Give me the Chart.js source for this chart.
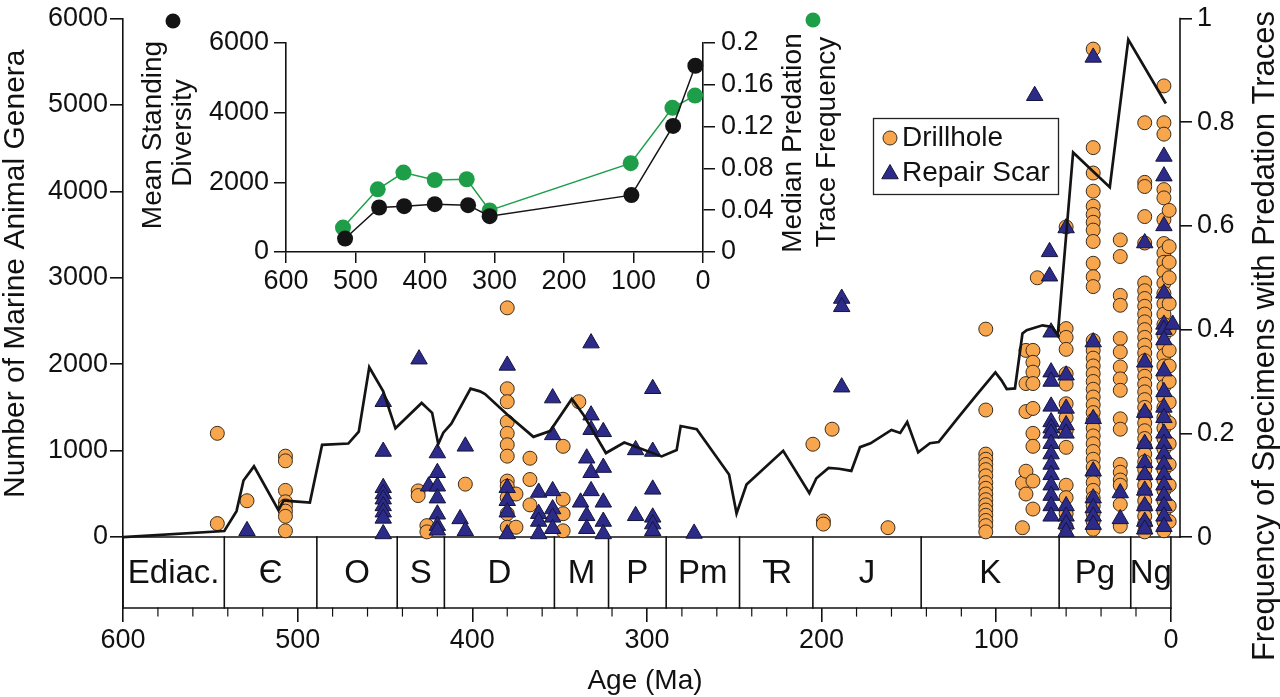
<!DOCTYPE html>
<html><head><meta charset="utf-8">
<script src="https://cdn.jsdelivr.net/npm/chart.js@4.4.1/dist/chart.umd.min.js"></script>
<style>
html,body{margin:0;padding:0;background:#fff;}
#wrap{position:relative;width:1280px;height:697px;overflow:hidden;background:#fff;}
#main{position:absolute;left:0;top:0;}
#inset{position:absolute;left:130px;top:0;}
</style></head><body>
<div id="wrap"><canvas id="main" width="1280" height="697"></canvas><canvas id="inset" width="730" height="300"></canvas></div>
<script>
// ---------- data ----------
const xTickValues = [600, 500, 400, 300, 200, 100, 0];
const generaTicks = [0, 1000, 2000, 3000, 4000, 5000, 6000];
const freqTicks = [0, 0.2, 0.4, 0.6, 0.8, 1];
const freqTickLabels = ['0', '0.2', '0.4', '0.6', '0.8', '1'];

const periodNames = ['Ediac.', 'Є', 'O', 'S', 'D', 'M', 'P', 'Pm', 'TR', 'J', 'K', 'Pg', 'Ng'];
const periodBounds = [600, 542, 489, 443, 416, 353, 322, 289, 247, 205, 143, 64, 23, 0];

const diversityAge = [600, 542, 535, 531, 525, 511, 508, 502, 493, 486, 471, 465, 459, 451, 444, 429, 423, 419.5, 416.6, 412, 401, 395.6, 392.7, 380, 365, 355.5, 343, 336.5, 323.5, 313, 291.6, 283, 280.7, 271.5, 253, 248.7, 243, 222, 207, 203, 196, 190, 183, 178, 172, 160, 155, 151, 144.7, 138, 133, 121.5, 111, 100.5, 97, 94, 89.3, 85, 82.6, 73.5, 68, 64.8, 56, 35, 24.4, 2.9];
const diversityGenera = [0, 70, 300, 654, 818, 310, 424, 413, 398, 1067, 1082, 1220, 1965, 1686, 1258, 1552, 1437, 1075, 1208, 1311, 1717, 1686, 1655, 1419, 1159, 1227, 1598, 1419, 972, 1094, 933, 1006, 1285, 1247, 723, 272, 608, 998, 508, 680, 800, 790, 765, 1040, 1085, 1240, 1205, 1330, 980, 1085, 1100, 1390, 1650, 1905, 1813, 1713, 1720, 2355, 2394, 2450, 2430, 2335, 4450, 4048, 5755, 5017];

const drillholeAge = [546, 529, 507, 431, 426, 404, 380, 375, 367, 348, 339, 205, 199, 194, 162, 106, 85, 83, 79, 76.5, 60, 44.5, 29, 15, 4, 1];
const drillholeFreq = [
  [0.200, 0.026],
  [0.070],
  [0.156, 0.147, 0.090, 0.068, 0.060, 0.050, 0.040, 0.012],
  [0.089, 0.080],
  [0.022, 0.010],
  [0.102],
  [0.442, 0.286, 0.261, 0.222, 0.200, 0.178, 0.156, 0.108, 0.098, 0.076, 0.045, 0.019],
  [0.083, 0.019],
  [0.152, 0.111, 0.062],
  [0.175, 0.073, 0.045, 0.012],
  [0.261],
  [0.179],
  [0.031, 0.025],
  [0.208],
  [0.018],
  [0.401, 0.245, 0.160, 0.150, 0.140, 0.130, 0.118, 0.105, 0.094, 0.083, 0.072, 0.062, 0.052, 0.042, 0.032, 0.022, 0.010],
  [0.104, 0.018],
  [0.360, 0.296, 0.242, 0.127, 0.083],
  [0.360, 0.337, 0.318, 0.296, 0.248, 0.200, 0.175, 0.108, 0.054],
  [0.500],
  [0.598, 0.402, 0.385, 0.362, 0.315, 0.295, 0.257, 0.230, 0.205, 0.173, 0.100, 0.076, 0.045, 0.020],
  [0.941, 0.751, 0.702, 0.667, 0.638, 0.622, 0.607, 0.592, 0.570, 0.528, 0.502, 0.483, 0.379, 0.360, 0.345, 0.330, 0.315, 0.300, 0.285, 0.270, 0.255, 0.240, 0.225, 0.210, 0.195, 0.180, 0.165, 0.150, 0.135, 0.120, 0.105, 0.090, 0.075, 0.060, 0.045, 0.030, 0.015],
  [0.573, 0.541, 0.466, 0.447, 0.383, 0.357, 0.328, 0.305, 0.283, 0.228, 0.208, 0.140, 0.125, 0.110, 0.100, 0.063, 0.021],
  [0.799, 0.684, 0.676, 0.618, 0.567, 0.490, 0.475, 0.460, 0.445, 0.430, 0.415, 0.400, 0.385, 0.370, 0.355, 0.340, 0.325, 0.310, 0.295, 0.280, 0.265, 0.250, 0.235, 0.220, 0.205, 0.190, 0.175, 0.160, 0.145, 0.130, 0.115, 0.100, 0.085, 0.070, 0.055, 0.040, 0.025, 0.010],
  [0.870, 0.799, 0.777, 0.670, 0.654, 0.612, 0.566, 0.548, 0.530, 0.512, 0.490, 0.470, 0.450, 0.430, 0.410, 0.390, 0.370, 0.350, 0.330, 0.310, 0.290, 0.270, 0.250, 0.230, 0.210, 0.190, 0.170, 0.150, 0.130, 0.110, 0.090, 0.070, 0.050, 0.030, 0.012],
  [0.630, 0.560, 0.530, 0.500, 0.450, 0.400, 0.360, 0.330, 0.300, 0.260, 0.220, 0.180, 0.140, 0.100, 0.060, 0.030]
];

const repairAge = [529, 451, 430.5, 425, 420, 407, 404, 380, 362, 354, 338, 334.5, 332, 325, 306.5, 296.7, 273, 188.5, 78, 69.5, 68.6, 60, 44.5, 29, 15, 4, -1];
const repairFreq = [
  [0.012],
  [0.261, 0.165, 0.095, 0.083, 0.073, 0.060, 0.048, 0.036, 0.006],
  [0.343],
  [0.098],
  [0.162, 0.124, 0.098, 0.075, 0.044, 0.022, 0.013],
  [0.035],
  [0.175, 0.012],
  [0.331, 0.095, 0.070, 0.048, 0.006],
  [0.086, 0.045, 0.030, 0.006],
  [0.268, 0.197, 0.089, 0.054, 0.038, 0.016],
  [0.067],
  [0.152, 0.041, 0.016],
  [0.374, 0.235, 0.207, 0.124, 0.089],
  [0.203, 0.134, 0.067, 0.030, 0.006],
  [0.168, 0.041],
  [0.286, 0.165, 0.092, 0.038, 0.025, 0.012],
  [0.007],
  [0.460, 0.444, 0.289],
  [0.851],
  [0.550, 0.503],
  [0.395, 0.318, 0.300, 0.252, 0.222, 0.210, 0.200, 0.180, 0.160, 0.140, 0.120, 0.100, 0.080, 0.060, 0.040],
  [0.596, 0.312, 0.248, 0.216, 0.200, 0.060, 0.040, 0.025, 0.010],
  [0.925, 0.376, 0.228, 0.127, 0.075, 0.056, 0.040, 0.024],
  [0.085, 0.035],
  [0.567, 0.337, 0.240, 0.180, 0.143, 0.120, 0.090, 0.060, 0.030, 0.015],
  [0.734, 0.696, 0.600, 0.470, 0.410, 0.400, 0.380, 0.320, 0.280, 0.250, 0.230, 0.200, 0.180, 0.160, 0.140, 0.120, 0.100, 0.080, 0.060, 0.040, 0.020],
  [0.410]
];

// inset
const insetXTicks = [600, 500, 400, 300, 200, 100, 0];
const insetDivTicks = [0, 2000, 4000, 6000];
const insetPredTicks = [0, 0.04, 0.08, 0.12, 0.16, 0.2];
const insetPredTickLabels = ['0', '0.04', '0.08', '0.12', '0.16', '0.2'];
const insetDivAge = [515, 466, 430, 386, 338, 307, 103, 43, 11];
const insetDiversity = [386, 1278, 1316, 1373, 1345, 1028, 1633, 3620, 5347];
const insetPredAge = [518, 468, 431, 386, 340, 307, 104, 44, 11.5];
const insetPredation = [0.0234, 0.060, 0.076, 0.0689, 0.0696, 0.0398, 0.085, 0.138, 0.1497];

// ---------- styling ----------
const FAM = '"Liberation Sans", Arial, Helvetica, sans-serif';
const INK = '#111';
const ORANGE = '#f8a64e';
const NAVY = '#2c2b8a';
const GREEN = '#1f9e4a';
const TICK = 27;
Chart.defaults.font.family = FAM;
Chart.defaults.color = INK;

function pts(ages, freqs) {
  const out = [];
  ages.forEach((a, i) => freqs[i].forEach(f => out.push({x: a, y: f})));
  return out;
}
function font(sz) { return sz + 'px ' + FAM; }
function rotText(ctx, txt, x, y, sz) {
  ctx.save();
  ctx.translate(x, y);
  ctx.rotate(-Math.PI / 2);
  ctx.font = font(sz);
  ctx.fillStyle = INK;
  ctx.textAlign = 'center';
  ctx.textBaseline = 'middle';
  ctx.fillText(txt, 0, 0);
  ctx.restore();
}
function tri(ctx, x, y, r) {
  ctx.beginPath();
  for (let k = 0; k < 3; k++) {
    const a = k * 2 * Math.PI / 3;
    const px = x + Math.sin(a) * r, py = y - Math.cos(a) * r;
    if (k === 0) ctx.moveTo(px, py); else ctx.lineTo(px, py);
  }
  ctx.closePath();
}

const mainDecor = {
  id: 'mainDecor',
  beforeDatasetsDraw(chart) {
    const {ctx, chartArea: ca, scales} = chart;
    const x = scales.x, y = scales.y, y2 = scales.y2;
    const y0 = y.getPixelForValue(0), yb = ca.bottom;
    ctx.save();
    ctx.strokeStyle = INK; ctx.lineWidth = 1.6; ctx.lineCap = 'square';
    ctx.beginPath(); ctx.moveTo(ca.left, y0); ctx.lineTo(ca.right, y0); ctx.stroke();
    ctx.beginPath(); ctx.moveTo(x.getPixelForValue(600), yb); ctx.lineTo(x.getPixelForValue(0), yb); ctx.stroke();
    periodBounds.forEach(b => {
      const px = x.getPixelForValue(b);
      ctx.beginPath(); ctx.moveTo(px, y0); ctx.lineTo(px, yb); ctx.stroke();
    });
    // minor ticks
    ctx.lineWidth = 1.2;
    for (let v = 20; v < 600; v += 20) {
      if (v % 100 === 0) continue;
      const px = x.getPixelForValue(v);
      ctx.beginPath(); ctx.moveTo(px, yb); ctx.lineTo(px, yb + 8); ctx.stroke();
    }
    // right axis line
    ctx.lineWidth = 1.6;
    ctx.beginPath(); ctx.moveTo(ca.right, y2.getPixelForValue(1)); ctx.lineTo(ca.right, y2.getPixelForValue(0)); ctx.stroke();
    // period labels
    ctx.fillStyle = INK; ctx.font = font(33); ctx.textBaseline = 'middle';
    const cy = (y0 + yb) / 2 + 1;
    periodNames.forEach((n, i) => {
      const cx = (x.getPixelForValue(periodBounds[i]) + x.getPixelForValue(periodBounds[i + 1])) / 2;
      if (n === 'TR') {
        ctx.textAlign = 'left';
        ctx.letterSpacing = '-14px';
        ctx.fillText(n, cx - 14, cy);
        ctx.letterSpacing = '0px';
      } else {
        ctx.textAlign = 'center';
        ctx.fillText(n, cx, cy);
      }
    });
    ctx.restore();
  },
  afterDraw(chart) {
    const {ctx, scales} = chart;
    const y = scales.y;
    ctx.save();
    // legend
    ctx.fillStyle = '#fff'; ctx.fillRect(873, 118, 186, 77);
    ctx.strokeStyle = '#222'; ctx.lineWidth = 1.3; ctx.strokeRect(873.5, 118.5, 185, 76);
    ctx.beginPath(); ctx.arc(890, 138, 7, 0, Math.PI * 2);
    ctx.fillStyle = ORANGE; ctx.fill(); ctx.strokeStyle = '#3a2c1c'; ctx.lineWidth = 1; ctx.stroke();
    tri(ctx, 890, 174, 9.5); ctx.fillStyle = NAVY; ctx.fill(); ctx.strokeStyle = '#15153a'; ctx.stroke();
    ctx.fillStyle = INK; ctx.font = font(28); ctx.textAlign = 'left'; ctx.textBaseline = 'middle';
    ctx.fillText('Drillhole', 902, 138);
    ctx.fillText('Repair Scar', 902, 173);
    // axis titles
    rotText(ctx, 'Number of Marine Animal Genera', 16, (y.getPixelForValue(0) + y.getPixelForValue(6000)) / 2 - 4, 30);
    rotText(ctx, 'Frequency of Specimens with Predation Traces', 1265, 336, 31);
    ctx.font = font(28); ctx.textAlign = 'center'; ctx.textBaseline = 'middle'; ctx.fillStyle = INK;
    ctx.fillText('Age (Ma)', 645, 681);
    ctx.restore();
  }
};

new Chart(document.getElementById('main'), {
  data: {
    datasets: [
      {type: 'line', label: 'Number of Marine Animal Genera', yAxisID: 'y',
       data: diversityAge.map((a, i) => ({x: a, y: diversityGenera[i]})),
       borderColor: '#141414', borderWidth: 2.7, pointRadius: 0, tension: 0, order: 0, borderJoinStyle: 'miter'},
      {type: 'scatter', label: 'Repair Scar', yAxisID: 'y2', data: pts(repairAge, repairFreq),
       pointStyle: 'triangle', radius: 9.5, backgroundColor: NAVY, borderColor: '#15153a', borderWidth: 1, order: 1, clip: false},
      {type: 'scatter', label: 'Drillhole', yAxisID: 'y2', data: pts(drillholeAge, drillholeFreq),
       pointStyle: 'circle', radius: 7, backgroundColor: ORANGE, borderColor: '#3a2c1c', borderWidth: 1, order: 2, clip: false}
    ]
  },
  options: {
    responsive: false, animation: false, devicePixelRatio: 1,
    layout: {padding: {top: 14, left: 0, right: 0, bottom: 0}},
    plugins: {legend: {display: false}, tooltip: {enabled: false}},
    scales: {
      x: {type: 'linear', position: 'bottom', reverse: true, min: -5.2, max: 600,
          afterBuildTicks: s => { s.ticks = xTickValues.map(v => ({value: v})); },
          afterFit: s => { s.height = 89; },
          grid: {drawOnChartArea: false, tickLength: 14, color: INK, lineWidth: 1.6},
          border: {display: false},
          ticks: {font: {size: TICK, lineHeight: 1}, color: INK, padding: 5, maxRotation: 0, autoSkip: false, callback: v => String(v)}},
      y: {type: 'linear', position: 'left', min: -821, max: 6000,
          afterBuildTicks: s => { s.ticks = generaTicks.map(v => ({value: v})); },
          afterFit: s => { s.width = 123; },
          grid: {drawOnChartArea: false, tickLength: 13, color: INK, lineWidth: 1.6},
          border: {display: true, color: INK, width: 1.6},
          ticks: {font: {size: TICK, lineHeight: 1}, color: INK, padding: 2, callback: v => String(v)}},
      y2: {type: 'linear', position: 'right', min: -0.13683, max: 1,
          afterBuildTicks: s => { s.ticks = freqTicks.map(v => ({value: v})); },
          afterFit: s => { s.width = 100; },
          grid: {drawOnChartArea: false, tickLength: 12, color: INK, lineWidth: 1.6},
          border: {display: false},
          ticks: {font: {size: TICK, lineHeight: 1}, color: INK, padding: 5,
                  callback: (v) => { const i = freqTicks.indexOf(v); return i >= 0 ? freqTickLabels[i] : ''; }}}
    }
  },
  plugins: [mainDecor]
});

const insetDecor = {
  id: 'insetDecor',
  afterDraw(chart) {
    const ctx = chart.ctx;
    ctx.save();
    rotText(ctx, 'Mean Standing', 23, 135, 28);
    rotText(ctx, 'Diversity', 53, 133, 28);
    rotText(ctx, 'Median Predation', 663, 143, 28);
    rotText(ctx, 'Trace Frequency', 697, 142, 28);
    ctx.beginPath(); ctx.arc(43, 21, 7.5, 0, Math.PI * 2); ctx.fillStyle = '#141414'; ctx.fill();
    ctx.beginPath(); ctx.arc(683, 20, 7.5, 0, Math.PI * 2); ctx.fillStyle = GREEN; ctx.fill();
    ctx.restore();
  }
};

new Chart(document.getElementById('inset'), {
  data: {
    datasets: [
      {type: 'line', label: 'Mean Standing Diversity', yAxisID: 'y',
       data: insetDivAge.map((a, i) => ({x: a, y: insetDiversity[i]})),
       borderColor: '#141414', borderWidth: 1.5, pointRadius: 8, pointBackgroundColor: '#141414',
       pointBorderColor: '#141414', pointBorderWidth: 0, tension: 0, order: 0, clip: false},
      {type: 'line', label: 'Median Predation Trace Frequency', yAxisID: 'y2',
       data: insetPredAge.map((a, i) => ({x: a, y: insetPredation[i]})),
       borderColor: GREEN, borderWidth: 1.5, pointRadius: 8, pointBackgroundColor: GREEN,
       pointBorderColor: GREEN, pointBorderWidth: 0, tension: 0, order: 1, clip: false}
    ]
  },
  options: {
    responsive: false, animation: false, devicePixelRatio: 1,
    layout: {padding: {top: 43, left: 0, right: 0, bottom: 0}},
    plugins: {legend: {display: false}, tooltip: {enabled: false}},
    scales: {
      x: {type: 'linear', position: 'bottom', reverse: true, min: 0, max: 600,
          afterBuildTicks: s => { s.ticks = insetXTicks.map(v => ({value: v})); },
          afterFit: s => { s.height = 48; },
          grid: {drawOnChartArea: false, tickLength: 11, color: INK, lineWidth: 1.5},
          border: {display: true, color: INK, width: 1.6},
          ticks: {font: {size: TICK, lineHeight: 1}, color: INK, padding: 5, maxRotation: 0, autoSkip: false, callback: v => String(v)}},
      y: {type: 'linear', position: 'left', min: 0, max: 6000,
          afterBuildTicks: s => { s.ticks = insetDivTicks.map(v => ({value: v})); },
          afterFit: s => { s.width = 156; },
          grid: {drawOnChartArea: false, tickLength: 12, color: INK, lineWidth: 1.5},
          border: {display: true, color: INK, width: 1.6},
          ticks: {font: {size: TICK, lineHeight: 1}, color: INK, padding: 5, callback: v => String(v)}},
      y2: {type: 'linear', position: 'right', min: 0, max: 0.2,
          afterBuildTicks: s => { s.ticks = insetPredTicks.map(v => ({value: v})); },
          afterFit: s => { s.width = 157; },
          grid: {drawOnChartArea: false, tickLength: 12, color: INK, lineWidth: 1.5},
          border: {display: true, color: INK, width: 1.6},
          ticks: {font: {size: TICK, lineHeight: 1}, color: INK, padding: 6,
                  callback: (v) => { const i = insetPredTicks.indexOf(v); return i >= 0 ? insetPredTickLabels[i] : ''; }}}
    }
  },
  plugins: [insetDecor]
});
</script>
</body></html>
